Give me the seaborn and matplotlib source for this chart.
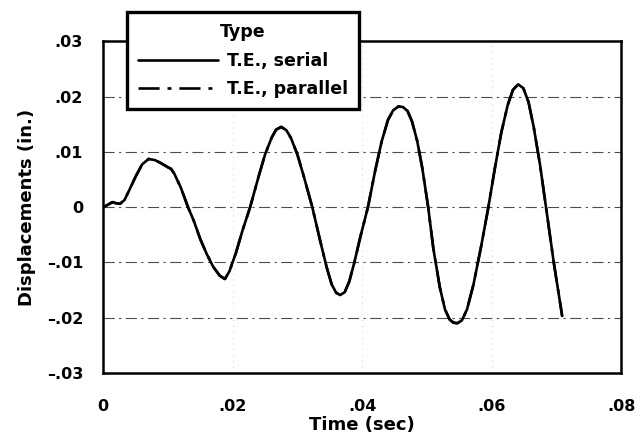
import pandas as pd
import seaborn as sns
import matplotlib.pyplot as plt
from matplotlib.ticker import FuncFormatter
from matplotlib.lines import Line2D

# 数据
time_serial = [0, 0.0007, 0.0014, 0.0020, 0.0026, 0.0033, 0.0040, 0.0050, 0.0060, 0.0070,
               0.0080, 0.0090, 0.0100, 0.0105, 0.0110, 0.0120, 0.0131, 0.0140, 0.0150, 0.0160,
               0.0170, 0.0180, 0.0188, 0.0195, 0.0205, 0.0215, 0.0227, 0.0240, 0.0250, 0.0260,
               0.0267, 0.0275, 0.0283, 0.0290, 0.0300, 0.0310, 0.0323, 0.0335, 0.0345, 0.0353,
               0.0360, 0.0366, 0.0373, 0.0380, 0.0388, 0.0397, 0.0409, 0.0420, 0.0430, 0.0440,
               0.0448, 0.0456, 0.0463, 0.0470, 0.0477, 0.0485, 0.0493, 0.0502, 0.0510, 0.0520,
               0.0528, 0.0535, 0.0541, 0.0547, 0.0554, 0.0562, 0.0572, 0.0584, 0.0595, 0.0605,
               0.0615, 0.0625, 0.0633, 0.0641, 0.0649, 0.0657, 0.0665, 0.0675, 0.0684, 0.0696,
               0.0709]
disp_serial = [0, 0.0004, 0.0009, 0.0007, 0.0006, 0.0013, 0.0030, 0.0055, 0.0077, 0.0087,
               0.0085, 0.0079, 0.0072, 0.0069, 0.0060, 0.0035, 0.0000, -0.0025, -0.0058, -0.0085,
               -0.0108, -0.0124, -0.0130, -0.0116, -0.0083, -0.0043, 0.0000, 0.0055, 0.0095, 0.0125,
               0.0140, 0.0145, 0.0139, 0.0125, 0.0095, 0.0055, 0.0000, -0.0060, -0.0108, -0.0140,
               -0.0155, -0.0159, -0.0154, -0.0135, -0.0100, -0.0055, 0.0000, 0.0065, 0.0118, 0.0158,
               0.0175, 0.0182, 0.0181, 0.0174, 0.0155, 0.0120, 0.0070, 0.0000, -0.0075, -0.0145,
               -0.0185, -0.0203, -0.0209, -0.0210, -0.0205, -0.0185, -0.0140, -0.0070, 0.0000, 0.0070,
               0.0135, 0.0185, 0.0212, 0.0222, 0.0215, 0.0190, 0.0145, 0.0075, 0.0000, -0.0100,
               -0.0197]
time_parallel = time_serial
disp_parallel = disp_serial

labels = ["T.E., serial", "T.E., parallel"]

df = pd.concat([
    pd.DataFrame({"Time": time_serial, "Disp": disp_serial, "Type": labels[0]}),
    pd.DataFrame({"Time": time_parallel, "Disp": disp_parallel, "Type": labels[1]}),
])

sns.set_style("white")
plt.rcParams['font.family'] = ['DejaVu Sans']
plt.rcParams['font.weight'] = 'bold'
plt.rcParams['text.color'] = 'black'
plt.rcParams['axes.labelcolor'] = 'black'

fig = plt.figure(figsize=(6.37, 4.43), dpi=100)
ax = fig.add_axes([0.162, 0.158, 0.813, 0.749])

sns.lineplot(data=df, x="Time", y="Disp", hue="Type", style="Type",
             palette={labels[0]: "black", labels[1]: "black"},
             dashes={labels[0]: "", labels[1]: (8, 3, 1.5, 3)},
             linewidth=1.9, ax=ax, sort=False, legend=False)

ax.set_xlim(0, 0.08)
ax.set_ylim(-0.03, 0.03)
ax.set_xticks([0, 0.02, 0.04, 0.06, 0.08])
ax.set_yticks([-0.03, -0.02, -0.01, 0, 0.01, 0.02, 0.03])


def fmt(v, pos):
    if abs(v) < 1e-9:
        return "0"
    s = f"{abs(v):.2f}".lstrip("0")
    return ("\u2013" if v < 0 else "") + s


ax.xaxis.set_major_formatter(FuncFormatter(fmt))
ax.yaxis.set_major_formatter(FuncFormatter(fmt))
ax.tick_params(axis="both", labelsize=11.5, width=1.5, length=5, direction="inout",
               colors="black", labelcolor="black")
ax.tick_params(axis="x", pad=16)
ax.tick_params(axis="y", pad=12)
for lab in ax.get_xticklabels() + ax.get_yticklabels():
    lab.set_fontweight("bold")

# 网格线
for yv in [-0.02, -0.01, 0, 0.01, 0.02]:
    ax.axhline(yv, color="black", lw=0.8, ls=(0, (10, 4, 2, 4)), alpha=0.7, zorder=0)
for xv in [0.02, 0.04, 0.06]:
    ax.axvline(xv, color="gray", lw=0.6, ls=(0, (1, 6)), alpha=0.5, zorder=0)

for sp in ax.spines.values():
    sp.set_color("black")
    sp.set_linewidth(1.8)

ax.set_xlabel("Time (sec)", fontsize=13, fontweight="bold", labelpad=2, color="black")
ax.set_ylabel("Displacements (in.)", fontsize=13, fontweight="bold", labelpad=8, color="black")

# 图例
handles = [Line2D([], [], color="black", lw=1.9),
           Line2D([], [], color="black", lw=1.9, ls=(0, (8, 3, 1.5, 3)))]
leg = fig.legend(handles, labels, title="Type", loc="upper left",
                 bbox_to_anchor=(0.199, 0.973), borderaxespad=0,
                 frameon=True, fancybox=False,
                 fontsize=12.5, title_fontproperties={"weight": "bold", "size": 12.5},
                 handlelength=4.6, borderpad=0.65, labelspacing=0.6, handletextpad=0.5)
leg.get_frame().set_edgecolor("black")
leg.get_frame().set_linewidth(2.4)
leg.get_frame().set_alpha(1)
leg.get_title().set_color("black")
for t in leg.get_texts():
    t.set_fontweight("bold")
    t.set_color("black")

plt.savefig("out.png", dpi=100)
